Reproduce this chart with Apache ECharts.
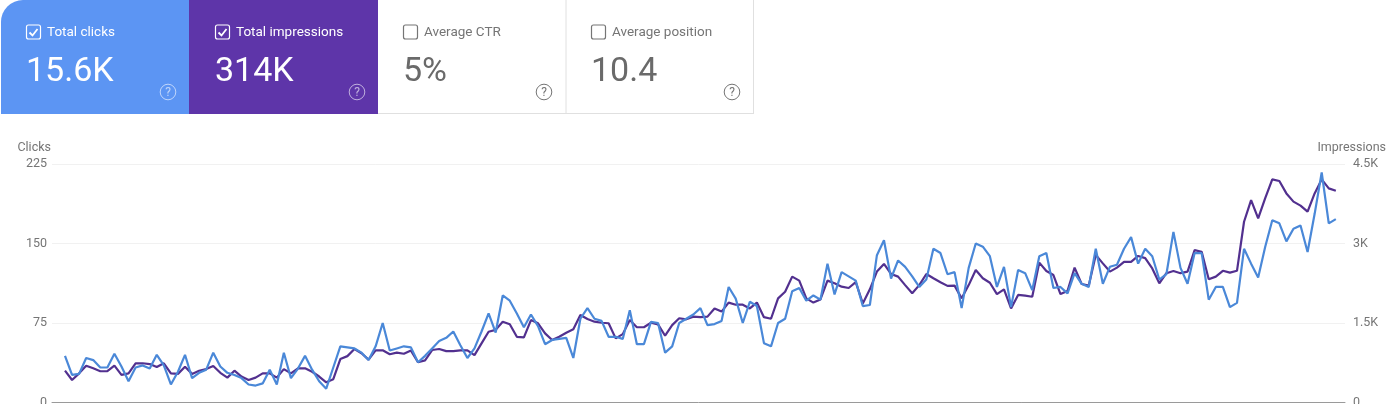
<!DOCTYPE html>
<html><head><meta charset="utf-8">
<style>html,body{margin:0;padding:0;background:#fff}#c{width:1392px;height:404px}</style>
<script src="https://cdn.jsdelivr.net/npm/echarts@6/dist/echarts.min.js"></script>
</head><body><div id="c"></div>
<script>
const clicks = [44,26,27,42,40,33,33,46,34,20,33,35,32,45,35,17,29,45,23,28,31,47,34,28,26,23,17,16,18,31,
17,47,23,32,44,31,20,13,33,53,52,51,47,40,53,75,49,51,53,52,38,44,51,58,61,67,54,42,51,67,
84,66,101,96,84,71,83,72,55,59,60,61,42,79,89,79,77,62,62,60,87,55,55,76,75,47,53,75,79,83,
89,73,74,77,109,98,75,95,91,56,53,75,79,105,108,96,101,97,131,102,123,119,115,91,92,139,153,117,134,128,
119,109,116,145,141,121,123,89,127,150,147,138,109,128,90,125,122,106,138,141,108,109,103,122,112,109,145,112,128,130,
145,156,131,145,138,116,121,161,127,112,141,141,97,109,109,90,94,145,131,118,147,172,169,152,164,167,142,178,217,169,173];
const impressions = [600,425,550,695,645,590,590,695,520,550,740,740,725,670,740,550,540,675,540,600,630,690,560,470,600,490,425,470,550,550,
470,630,550,645,645,580,490,380,440,820,875,1010,930,810,985,985,910,940,920,980,760,795,990,1010,970,970,985,985,895,1115,
1335,1370,1525,1475,1240,1230,1555,1495,1305,1180,1240,1315,1380,1650,1575,1525,1505,1495,1210,1290,1555,1420,1420,1505,1475,1260,1460,1590,1570,1620,
1610,1620,1775,1715,1885,1845,1845,1775,1885,1610,1580,1965,2090,2375,2300,1965,1885,1945,2300,2250,2185,2160,2270,1870,2135,2470,2615,2425,2375,2215,
2060,2215,2425,2345,2270,2200,2205,1965,2215,2500,2345,2260,2045,2135,1775,2030,2015,1995,2640,2480,2405,2045,2105,2545,2235,2205,2785,2625,2470,2545,
2655,2655,2765,2725,2530,2250,2440,2480,2440,2470,2875,2845,2325,2375,2485,2450,2485,3410,3820,3475,3855,4210,4180,3945,3790,3715,3600,3945,4210,4040,3995];
const clickTicks = [0,75,150,225];
const impressionTicks = ['0','1.5K','3K','4.5K'];
const cards = [
  {label:'Total clicks', value:'15.6K', x:0, w:189, fill:'#5c95f3', on:true},
  {label:'Total impressions', value:'314K', x:189, w:189, fill:'#5e35a9', on:true},
  {label:'Average CTR', value:'5%', x:378, w:188, fill:'#ffffff', on:false},
  {label:'Average position', value:'10.4', x:566, w:188, fill:'#ffffff', on:false}
];

const font = 'Roboto';
const graphic = [];
cards.forEach((c,i)=>{
  const fg = c.on ? '#ffffff' : '#6a6a6a';
  const soft = c.on ? 'rgba(255,255,255,0.6)' : '#757575';
  const off = c.on ? 0 : -1;
  graphic.push({type:'rect',silent:true,shape:{x:c.x+(i===0?1:0),y:0,width:c.w-(i===0?1:0),height:114,r:i===0?[22,0,0,0]:0},style:{fill:c.fill}});
  const bx=c.x+26.5+off, by=25;
  graphic.push({type:'rect',silent:true,shape:{x:bx,y:by,width:14,height:14,r:2},style:{fill:'none',stroke:c.on?'#ffffff':'#757575',lineWidth:1.2}});
  if(c.on) graphic.push({type:'polyline',silent:true,shape:{points:[[bx+3,by+7.5],[bx+6,by+10.5],[bx+11,by+4]]},style:{fill:'none',stroke:'#ffffff',lineWidth:1.8}});
  graphic.push({type:'text',silent:true,style:{x:c.x+47+off,y:33,text:c.label,fill:c.on?'#ffffff':'#757575',font:'13.5px '+font,verticalAlign:'middle'}});
  graphic.push({type:'text',silent:true,style:{x:c.x+26+off,y:72,text:c.value,fill:fg,font:'34px '+font,verticalAlign:'middle'}});
  const hx=c.x+(i<2?168:166), hy=92;
  graphic.push({type:'circle',silent:true,shape:{cx:hx,cy:hy,r:7.8},style:{fill:'none',stroke:soft,lineWidth:1}});
  graphic.push({type:'text',silent:true,style:{x:hx,y:hy+0.5,text:'?',fill:soft,font:'12px '+font,align:'center',verticalAlign:'middle'}});
});
graphic.push({type:'line',silent:true,shape:{x1:566,y1:0,x2:566,y2:113.5},style:{stroke:'#e0e0e0',lineWidth:1}});
graphic.push({type:'line',silent:true,shape:{x1:753.5,y1:0,x2:753.5,y2:113.5},style:{stroke:'#e0e0e0',lineWidth:1}});
graphic.push({type:'line',silent:true,shape:{x1:378,y1:113.5,x2:754,y2:113.5},style:{stroke:'#e0e0e0',lineWidth:1}});

const chart = echarts.init(document.getElementById('c'),null,{renderer:'canvas'});
const axisText = {color:'#757575',fontFamily:font,fontSize:12.5};
chart.setOption({
  animation:false,
  backgroundColor:'#ffffff',
  graphic:{elements:graphic},
  grid:{left:52,right:47,top:164,bottom:1.5,containLabel:false,outerBoundsMode:'none'},
  xAxis:{type:'value',min:-1.84,max:181.3,axisLine:{show:true,onZero:false,lineStyle:{color:'#9a9a9a',width:1}},axisTick:{show:false},axisLabel:{show:false},splitLine:{show:false}},
  yAxis:[
    {type:'value',min:0,max:225,interval:75,position:'left',name:'Clicks',nameGap:10,
     nameTextStyle:{...axisText,align:'right',padding:[0,14,0,0]},
     axisLine:{show:false},axisTick:{show:false},
     axisLabel:{...axisText,margin:5,formatter:v=>String(clickTicks[clickTicks.indexOf(v)])},
     splitLine:{lineStyle:{color:'#f1f1f1',width:1}}},
    {type:'value',min:0,max:4500,interval:1500,position:'right',name:'Impressions',nameGap:10,
     nameTextStyle:{...axisText,align:'right',padding:[0,-41,0,0]},
     axisLine:{show:false},axisTick:{show:false},
     axisLabel:{...axisText,margin:8,formatter:v=>impressionTicks[v/1500]},
     splitLine:{show:false}}
  ],
  series:[
    {name:'Impressions',type:'line',yAxisIndex:1,data:impressions.map((v,i)=>[i,v]),showSymbol:false,lineStyle:{color:'#52308f',width:2.2},itemStyle:{color:'#52308f'},clip:false},
    {name:'Clicks',type:'line',yAxisIndex:0,data:clicks.map((v,i)=>[i,v]),showSymbol:false,lineStyle:{color:'#4a88d8',width:2.2},itemStyle:{color:'#4a88d8'},clip:false}
  ]
});
</script></body></html>
